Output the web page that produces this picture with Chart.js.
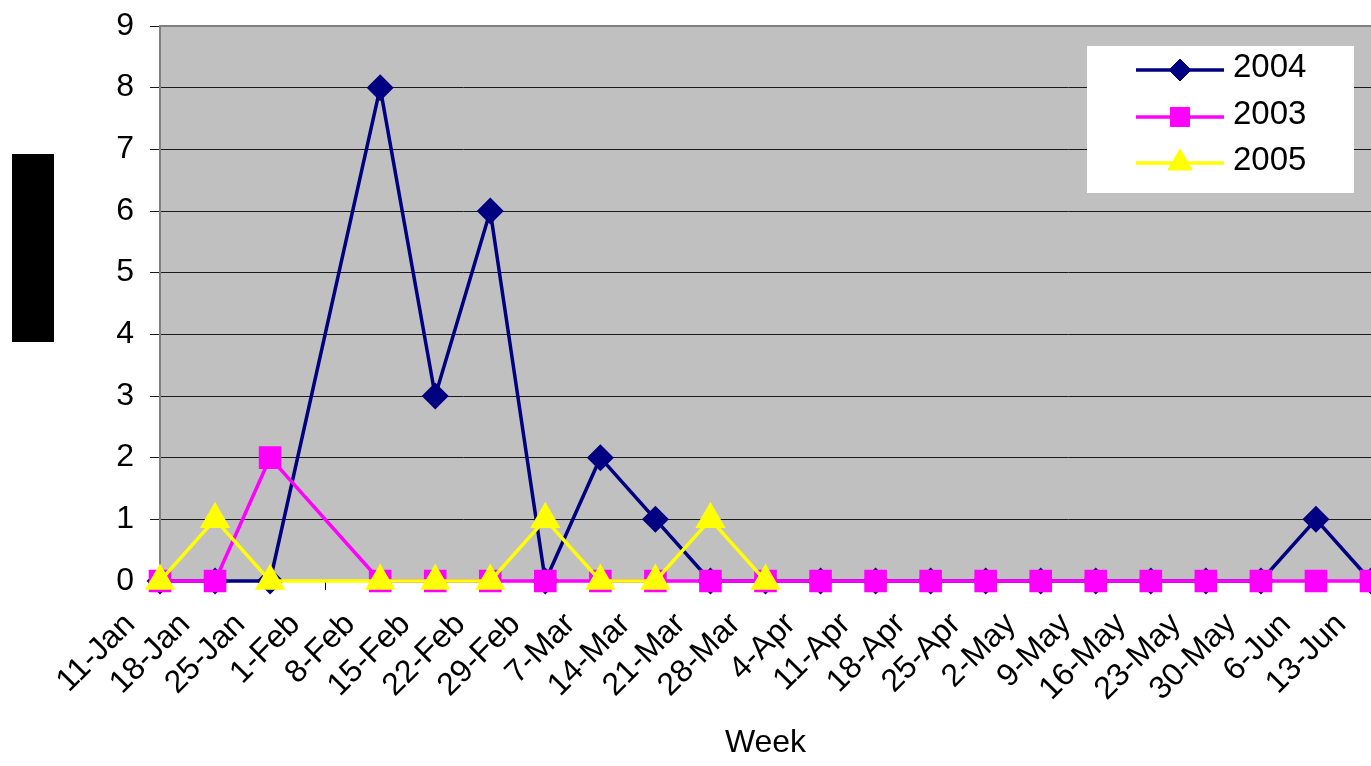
<!DOCTYPE html>
<html>
<head>
<meta charset="utf-8">
<script src="https://cdn.jsdelivr.net/npm/chart.js@4/dist/chart.umd.min.js"></script>
<style>
  html, body { margin: 0; padding: 0; background: #ffffff; }
  #wrap { position: relative; width: 1371px; height: 766px; }
</style>
</head>
<body>
<div id="wrap"><canvas id="c" width="1371" height="766"></canvas></div>
<script>
// Weekly case counts, one entry per week; null = no report that week
const weeks = ['11-Jan', '18-Jan', '25-Jan', '1-Feb', '8-Feb', '15-Feb', '22-Feb', '29-Feb',
  '7-Mar', '14-Mar', '21-Mar', '28-Mar', '4-Apr', '11-Apr', '18-Apr', '25-Apr',
  '2-May', '9-May', '16-May', '23-May', '30-May', '6-Jun', '13-Jun'];

const cases2004 = [0, 0, 0, null, 8, 3, 6, 0, 2, 1, 0, 0, 0, 0, 0, 0, 0, 0, 0, 0, 0, 1, 0];
const cases2003 = [0, 0, 2, null, 0, 0, 0, 0, 0, 0, 0, 0, 0, 0, 0, 0, 0, 0, 0, 0, 0, 0, 0];
const cases2005 = [0, 1, 0, null, 0, 0, 0, 1, 0, 0, 1, 0,
  null, null, null, null, null, null, null, null, null, null, null];

const seriesNames = ['2004', '2003', '2005'];
const yMin = 0, yMax = 9, yStep = 1;
const xTitle = 'Week';

const FONT = '"Liberation Sans", Arial, sans-serif';
const TEXT_SIZE = 32;

// Grey plot area with a grey frame on the top and left
const plotArea = {
  id: 'plotArea',
  beforeDraw(chart) {
    const { ctx, chartArea: a } = chart;
    ctx.save();
    ctx.fillStyle = '#c0c0c0';
    ctx.fillRect(a.left, a.top, a.right - a.left, a.bottom - a.top);
    ctx.restore();
  },
  beforeDatasetsDraw(chart) {
    const { ctx, chartArea: a } = chart;
    ctx.save();
    ctx.strokeStyle = '#808080';
    ctx.lineWidth = 2;
    ctx.beginPath();
    ctx.moveTo(a.left, a.bottom);
    ctx.lineTo(a.left, a.top);
    ctx.lineTo(a.right + 2, a.top);
    ctx.stroke();
    ctx.restore();
  }
};

// Masked block beside the value axis
const sideBlock = {
  id: 'sideBlock',
  afterDraw(chart) {
    const ctx = chart.ctx;
    ctx.save();
    ctx.fillStyle = '#000000';
    ctx.fillRect(12, 154, 42, 188);
    ctx.restore();
  }
};

function drawMarker(ctx, ds, x, y) {
  const opts = { pointStyle: ds.pointStyle, radius: ds.pointRadius, rotation: 0, borderWidth: 1 };
  ctx.fillStyle = ds.pointBackgroundColor;
  ctx.strokeStyle = ds.pointBorderColor;
  ctx.lineWidth = 1;
  if (window.Chart && Chart.helpers && Chart.helpers.drawPoint) {
    Chart.helpers.drawPoint(ctx, opts, x, y);
    return;
  }
  const r = ds.pointRadius;
  ctx.beginPath();
  if (ds.pointStyle === 'rectRot') {
    ctx.moveTo(x, y - r); ctx.lineTo(x + r, y); ctx.lineTo(x, y + r); ctx.lineTo(x - r, y);
  } else if (ds.pointStyle === 'rect') {
    const s = r * Math.SQRT1_2;
    ctx.rect(x - s, y - s, 2 * s, 2 * s);
  } else {
    ctx.moveTo(x, y - r);
    ctx.lineTo(x + r * Math.sin(2 * Math.PI / 3), y - r * Math.cos(2 * Math.PI / 3));
    ctx.lineTo(x + r * Math.sin(4 * Math.PI / 3), y - r * Math.cos(4 * Math.PI / 3));
  }
  ctx.closePath();
  ctx.fill();
  ctx.stroke();
}

// Boxed legend inside the upper right of the plot
const boxLegend = {
  id: 'boxLegend',
  afterDatasetsDraw(chart) {
    const ctx = chart.ctx;
    const box = { x: 1087, y: 46, w: 267, h: 147 };
    const rows = [70, 117, 163];
    ctx.save();
    ctx.fillStyle = '#ffffff';
    ctx.fillRect(box.x, box.y, box.w, box.h);
    chart.data.datasets.forEach((ds, i) => {
      const y = rows[i];
      ctx.strokeStyle = ds.borderColor;
      ctx.lineWidth = ds.borderWidth;
      ctx.beginPath();
      ctx.moveTo(1136, y);
      ctx.lineTo(1224, y);
      ctx.stroke();
      drawMarker(ctx, ds, 1180, y);
      ctx.fillStyle = '#000000';
      ctx.font = '33px ' + FONT;
      ctx.textAlign = 'left';
      ctx.textBaseline = 'middle';
      ctx.fillText(ds.label, 1233, y - 2);
    });
    ctx.restore();
  }
};

const chart = new Chart(document.getElementById('c'), {
  type: 'line',
  data: {
    labels: weeks,
    datasets: [
      {
        label: seriesNames[0], data: cases2004, order: 3,
        borderColor: '#000080', backgroundColor: '#000080', borderWidth: 3.5,
        pointStyle: 'rectRot', pointRadius: 11,
        pointBackgroundColor: '#000080', pointBorderColor: '#000080'
      },
      {
        label: seriesNames[1], data: cases2003, order: 2,
        borderColor: '#ff00ff', backgroundColor: '#ff00ff', borderWidth: 3.5,
        pointStyle: 'rect', pointRadius: 13.5,
        pointBackgroundColor: '#ff00ff', pointBorderColor: '#ff00ff'
      },
      {
        label: seriesNames[2], data: cases2005, order: 1,
        borderColor: '#ffff00', backgroundColor: '#ffff00', borderWidth: 3.5,
        pointStyle: 'triangle', pointRadius: 14,
        pointBackgroundColor: '#ffff00', pointBorderColor: '#ffff00'
      }
    ]
  },
  options: {
    responsive: false,
    animation: false,
    devicePixelRatio: 1,
    spanGaps: true,
    layout: { autoPadding: false, padding: { top: 26, left: 0, right: 0, bottom: 0 } },
    elements: {
      line: { tension: 0, fill: false },
      point: { hoverRadius: 11 }
    },
    datasets: { line: { clip: false } },
    plugins: {
      legend: { display: false },
      tooltip: { enabled: false },
      title: { display: false }
    },
    scales: {
      x: {
        type: 'category',
        offset: false,
        grid: { drawOnChartArea: false, drawTicks: true, tickLength: 9, color: '#000000', lineWidth: 1 },
        border: { display: true, color: '#000000', width: 1 },
        ticks: {
          autoSkip: false, maxRotation: 45, minRotation: 45,
          font: { family: FONT, size: TEXT_SIZE, lineHeight: 1 }, color: '#000000',
          padding: 18, labelOffset: -30
        },
        title: {
          display: true, text: xTitle, color: '#000000',
          font: { family: FONT, size: TEXT_SIZE, lineHeight: 1.2 }, padding: { top: 0, bottom: 4 }
        },
        afterFit(scale) {
          scale.height = 185;
          scale.paddingLeft = 0;
          scale.paddingRight = 0;
        }
      },
      y: {
        min: yMin, max: yMax,
        grid: { color: '#1a1a1a', lineWidth: 1, tickLength: 10, drawTicks: true },
        border: { display: true, color: '#808080', width: 2 },
        ticks: {
          stepSize: yStep,
          font: { family: FONT, size: TEXT_SIZE, lineHeight: 1 }, color: '#000000', padding: 16
        },
        afterFit(scale) {
          scale.width = 160;
          scale.paddingTop = 0;
          scale.paddingBottom = 0;
        }
      }
    }
  },
  plugins: [plotArea, boxLegend, sideBlock]
});
</script>
</body>
</html>
